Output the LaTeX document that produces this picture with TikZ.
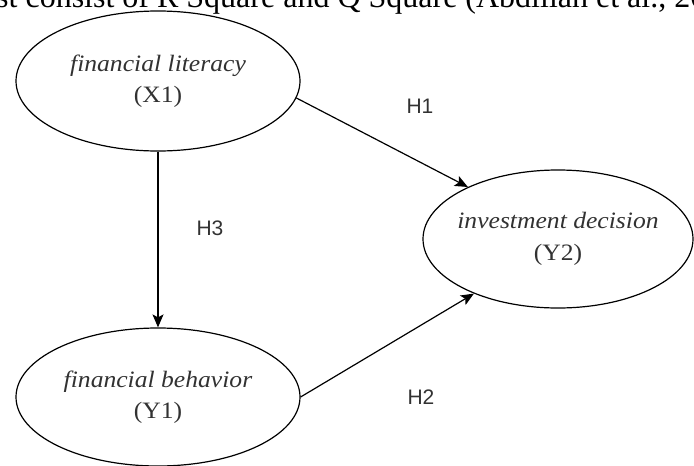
\documentclass[tikz,border=0pt]{standalone}
\usepackage{fontspec}
\setmainfont{Liberation Serif}
\newfontfamily\hsans{Liberation Sans}
\newfontfamily\lblfont[FakeStretch=1.09]{Liberation Serif}
\usetikzlibrary{arrows.meta,shapes.geometric}
\definecolor{txtgray}{RGB}{50,50,50}
\tikzset{
  var/.style={ellipse, draw=black, line width=1.2pt, inner xsep=-40pt, inner ysep=0pt,
    font=\lblfont\fontsize{23.5}{31.5}\selectfont, text=txtgray, align=center},
  conn/.style={draw=black, line width=1.2pt, -{Stealth[length=13pt,width=11pt,inset=3pt]}},
  hlab/.style={font=\hsans\fontsize{21}{24}\selectfont, text=txtgray}
}
\begin{document}
\begin{tikzpicture}[x=1pt,y=-1pt]
\useasboundingbox (0,0) rectangle (694,466);
\clip (0,0) rectangle (694,466);
\node[anchor=base west, inner sep=0pt, font=\fontsize{32}{36}\selectfont] (top) at (-4,7.5) {st consist of R Square and Q Square (Abdillah et al., 20};
\node[var, minimum width=284pt, minimum height=140pt] (X1) at (158,81) {\textit{financial literacy}\\(X1)};
\node[var, minimum width=270pt, minimum height=138pt] (Y2) at (558,239) {\textit{investment decision}\\(Y2)};
\node[var, minimum width=284pt, minimum height=138pt] (Y1) at (158,397) {\textit{financial behavior}\\(Y1)};
\draw[conn] (X1.-7) -- (Y2.150.7);
\draw[conn] (Y1.0) -- (Y2.-147.4);
\draw[conn] (X1.south) -- (Y1.north);
\node[hlab] (h1) at (420,106) {H1};
\node[hlab] (h2) at (421,397) {H2};
\node[hlab] (h3) at (210,228) {H3};
\end{tikzpicture}
\end{document}
